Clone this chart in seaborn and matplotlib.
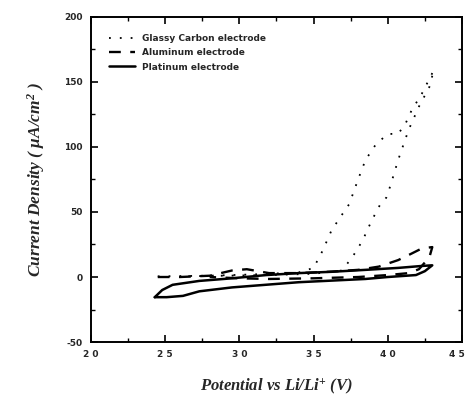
import matplotlib
matplotlib.use("Agg")
import matplotlib.pyplot as plt
import matplotlib.transforms as mtransforms
import seaborn as sns
import pandas as pd
from matplotlib.ticker import MultipleLocator

# Glassy carbon (dotted) – forward then return sweep
gc_x = [2.45, 2.8, 3.1, 3.4, 3.50, 3.56, 3.62, 3.68, 3.74, 3.80, 3.85, 3.92, 4.00, 4.07, 4.12, 4.16, 4.23, 4.31,
        4.28, 4.21, 4.14, 4.07, 4.02, 3.99, 3.95, 3.89, 3.83, 3.76, 3.69, 3.5, 3.2, 2.9, 2.6]
gc_y = [0.5, 1.0, 2.0, 3.5, 7, 20, 35.6, 46, 56, 75, 90, 102, 110, 110, 118, 128, 141, 159,
        146, 131, 113, 90, 71, 61, 56, 43, 28, 15, 5, 2.5, 1.5, 1.0, 0.5]

# Aluminum (dashed)
al_x = [2.45, 2.6, 2.8, 2.95, 3.05, 3.2, 3.4, 3.6, 3.8, 3.94, 4.07, 4.16, 4.23, 4.30,
        4.28, 4.21, 4.14, 4.0, 3.8, 3.5, 3.2, 3.0, 2.8]
al_y = [0, 0, 1.0, 5, 6, 3, 3, 4, 5.5, 8, 13, 18, 22, 23,
        15, 6, 3, 1.5, 0, -1, -1.5, -1, 0]

# Platinum (solid) – closed loop
pt_x = [2.43, 2.48, 2.55, 2.73, 2.95, 3.18, 3.40, 3.62, 3.85, 4.07, 4.23, 4.30,
        4.25, 4.19, 4.00, 3.85, 3.40, 2.95, 2.73, 2.62, 2.51, 2.43]
pt_y = [-15.5, -10, -6, -3, -1, 1.5, 3, 4, 5.5, 7, 8.5, 9,
        4.5, 1.5, 0, -1.5, -4, -8, -11, -14.5, -15.5, -15.5]

labels = ["Glassy Carbon electrode", "Aluminum electrode", "Platinum electrode"]
x_ticks = [2.0, 2.5, 3.0, 3.5, 4.0, 4.5]
x_ticklabels = ["2 0", "2 5", "3 0", "3 5", "4 0", "4 5"]
y_ticks = [-50, 0, 50, 100, 150, 200]
y_ticklabels = ["-50", "0", "50", "100", "150", "200"]

sns.set_style("ticks")
plt.rcParams["font.family"] = ["DejaVu Sans"]
plt.rcParams["mathtext.fontset"] = "custom"
plt.rcParams["mathtext.rm"] = "Liberation Serif:bold:italic"
plt.rcParams["mathtext.it"] = "Liberation Serif:bold:italic"

fig = plt.figure(figsize=(4.69, 4.01), dpi=100)
ax = fig.add_axes([0.194, 0.147, 0.791, 0.811])

df_gc = pd.DataFrame({"x": gc_x, "y": gc_y})
df_al = pd.DataFrame({"x": al_x, "y": al_y})
df_pt = pd.DataFrame({"x": pt_x, "y": pt_y})

sns.lineplot(data=df_gc, x="x", y="y", sort=False, estimator=None, ax=ax,
             color="black", lw=1.3, linestyle=(0, (1, 5)), label=labels[0])
sns.lineplot(data=df_al, x="x", y="y", sort=False, estimator=None, ax=ax,
             color="black", lw=1.7, linestyle=(0, (5, 4)), label=labels[1])
sns.lineplot(data=df_pt, x="x", y="y", sort=False, estimator=None, ax=ax,
             color="black", lw=1.8, linestyle="-", label=labels[2])

ax.set_xlim(2.0, 4.5)
ax.set_ylim(-50, 200)
ax.set_xticks(x_ticks)
ax.set_xticklabels(x_ticklabels)
ax.set_yticks(y_ticks)
ax.set_yticklabels(y_ticklabels)
ax.xaxis.set_minor_locator(MultipleLocator(0.25))
ax.yaxis.set_minor_locator(MultipleLocator(25))
ax.tick_params(which="both", direction="in", top=True, right=True, color="black")
ax.tick_params(which="major", length=5, width=1.2, labelsize=6.5, pad=6)
ax.tick_params(which="minor", length=3, width=1.0)
for lab in ax.get_xticklabels() + ax.get_yticklabels():
    lab.set_fontweight("bold")
last = ax.get_xticklabels()[-1]
last.set_transform(last.get_transform() +
                   mtransforms.ScaledTranslation(-5 / 100, 0, fig.dpi_scale_trans))
for sp in ax.spines.values():
    sp.set_linewidth(1.4)
    sp.set_color("black")

ax.set_xlabel(r"Potential vs Li/Li$^{+}$ (V)", fontsize=12, fontweight="bold",
              fontstyle="italic", family="Liberation Serif", labelpad=12)
ax.set_ylabel(r"Current Density ( $\mu$A/cm$^{2}$ )", fontsize=12.5, fontweight="bold",
              fontstyle="italic", family="Liberation Serif", labelpad=12)

leg = ax.legend(loc="upper left", frameon=False, fontsize=6.5, handlelength=2.8,
                borderaxespad=0.4, bbox_to_anchor=(0.03, 0.97), labelspacing=0.6)
for t in leg.get_texts():
    t.set_fontweight("bold")

fig.savefig("out.png", dpi=100)
